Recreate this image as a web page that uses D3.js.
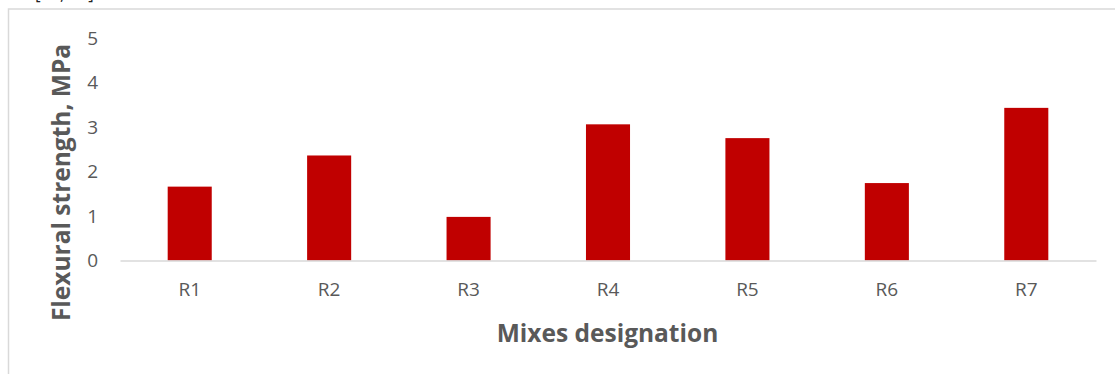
<!DOCTYPE html>
<html>
<head>
<meta charset="utf-8">
<script src="https://cdn.jsdelivr.net/npm/d3@7"></script>
<style>
  html, body { margin: 0; padding: 0; background: #fff; }
  svg { display: block; }
  text { font-family: "Open Sans", "Liberation Sans", sans-serif; }
</style>
</head>
<body>
<svg id="chart" width="1115" height="374"></svg>
<script>
// Flexural strength of each mix
const categories = ["R1", "R2", "R3", "R4", "R5", "R6", "R7"];
const strength = [1.66, 2.36, 0.98, 3.06, 2.75, 1.74, 3.43];
const yTicks = [0, 1, 2, 3, 4, 5];
const xTitle = "Mixes designation";
const yTitle = "Flexural strength, MPa";

const svg = d3.select("#chart");
const W = 1115, H = 374;
const plot = { left: 120, right: 1096, top: 38, bottom: 260.5 };
const grey = "#595959";
const font = "'Open Sans', sans-serif";

// citation fragment running off the top edge
svg.append("text")
  .attr("x", 35).attr("y", 0)
  .attr("font-size", 17).attr("fill", "#222")
  .text("[14, 15]");

// chart area frame
svg.append("rect")
  .attr("x", 8.5).attr("y", 9)
  .attr("width", W).attr("height", H)
  .attr("fill", "none").attr("stroke", "#d9d9d9").attr("stroke-width", 1.5);

const x = d3.scaleBand().domain(categories).range([plot.left, plot.right]).padding(0);
const y = d3.scaleLinear().domain([0, 5]).range([plot.bottom, plot.top]);
const barW = x.bandwidth() * 0.316;

// bars
svg.append("g").selectAll("rect")
  .data(categories.map((c, i) => ({ c, v: strength[i] })))
  .join("rect")
  .attr("x", d => x(d.c) + x.bandwidth() / 2 - barW / 2)
  .attr("y", d => y(d.v))
  .attr("width", barW)
  .attr("height", d => y(0) - y(d.v))
  .attr("fill", "#c00000");

// category axis
const xAxis = svg.append("g")
  .attr("transform", `translate(0,${plot.bottom})`)
  .call(d3.axisBottom(x).tickSize(0).tickPadding(22));
xAxis.select(".domain").attr("stroke", "#d9d9d9").attr("stroke-width", 1.5);
xAxis.selectAll("text").attr("font-size", 19).attr("fill", grey)
  .attr("font-family", font);

// value axis
const yAxis = svg.append("g")
  .attr("transform", `translate(98,0)`)
  .call(d3.axisLeft(y).tickValues(yTicks).tickFormat(d3.format("d")).tickSize(0).tickPadding(0));
yAxis.select(".domain").remove();
yAxis.selectAll("text").attr("font-size", 19).attr("fill", grey)
  .attr("font-family", font);

// axis titles
svg.append("text")
  .attr("x", 607.5).attr("y", 342)
  .attr("text-anchor", "middle")
  .attr("font-size", 24.5).attr("font-weight", "bold").attr("fill", grey)
  .text(xTitle);

svg.append("text")
  .attr("transform", "translate(70,182.5) rotate(-90)")
  .attr("text-anchor", "middle")
  .attr("font-size", 24.5).attr("font-weight", "bold").attr("fill", grey)
  .text(yTitle);
</script>
</body>
</html>
